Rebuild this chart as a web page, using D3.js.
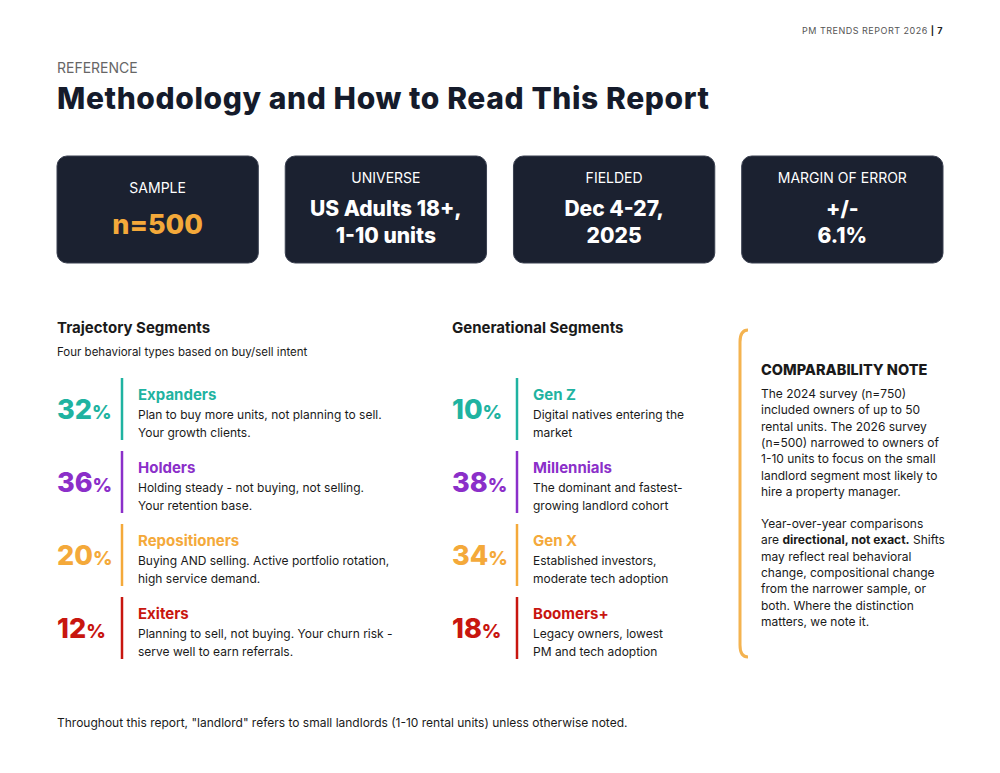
<!DOCTYPE html>
<html><head><meta charset="utf-8">
<script src="https://cdn.jsdelivr.net/npm/d3@7"></script>
<style>body{margin:0;background:#fff}svg{display:block;font-family:Inter,"Noto Sans",sans-serif}</style>
</head><body><svg id="c" width="1000" height="773"></svg>
<script>
const cardLabels=["SAMPLE","UNIVERSE","FIELDED","MARGIN OF ERROR"];
const cardValues=[["n=500"],["US Adults 18+,","1-10 units"],["Dec 4-27,","2025"],["+/-","6.1%"]];
const trajNames=["Expanders","Holders","Repositioners","Exiters"];
const trajValues=[32,36,20,12];
const trajDesc=[["Plan to buy more units, not planning to sell.","Your growth clients."],["Holding steady - not buying, not selling.","Your retention base."],["Buying AND selling. Active portfolio rotation,","high service demand."],["Planning to sell, not buying. Your churn risk -","serve well to earn referrals."]];
const genNames=["Gen Z","Millennials","Gen X","Boomers+"];
const genValues=[10,38,34,18];
const genDesc=[["Digital natives entering the","market"],["The dominant and fastest-","growing landlord cohort"],["Established investors,","moderate tech adoption"],["Legacy owners, lowest","PM and tech adoption"]];
const segColors=["#1fb3a1","#8b2fc9","#f4a93a","#c8160f"];
const noteLines1=["The 2024 survey (n=750)","included owners of up to 50","rental units. The 2026 survey","(n=500) narrowed to owners of","1-10 units to focus on the small","landlord segment most likely to","hire a property manager."];

const svg=d3.select("#c");
const ink="#1a1a1a";
svg.append("text").attr("x",943).attr("y",34).attr("text-anchor","end").attr("font-size",9).attr("fill","#555").attr("letter-spacing",0.5)
 .html('PM TRENDS REPORT 2026 <tspan font-weight="700" fill="#222">| 7</tspan>');
svg.append("text").attr("x",57).attr("y",73).attr("font-size",14).attr("fill","#666").text("REFERENCE");
svg.append("text").attr("x",57).attr("y",109).attr("font-size",30).attr("font-weight",800).attr("fill","#151b2b").attr("letter-spacing",0.6).text("Methodology and How to Read This Report");

const xc=d3.scaleBand().domain(d3.range(4)).range([57,943]).paddingInner(0.118);
const cg=svg.selectAll("g.card").data(cardLabels).join("g").attr("transform",(d,i)=>`translate(${xc(i)},156)`);
cg.append("rect").attr("width",xc.bandwidth()).attr("height",107).attr("rx",10).attr("fill","#1b2130").attr("stroke","#3a4050");
cg.append("text").attr("x",xc.bandwidth()/2).attr("y",(d,i)=>i==0?37:27).attr("text-anchor","middle").attr("fill","#fff").attr("font-size",14).text(d=>d);
cg.each(function(d,i){
  const g=d3.select(this),v=cardValues[i];
  v.forEach((t,j)=>g.append("text").attr("x",xc.bandwidth()/2).attr("y",i==0?78:(j==0?60:87)).attr("text-anchor","middle")
   .attr("fill",i==0?"#f4a93a":"#fff").attr("font-weight",800).attr("font-size",i==0?27:21).text(t));
});

svg.append("text").attr("x",57).attr("y",333).attr("font-size",15).attr("font-weight",700).attr("fill",ink).text("Trajectory Segments");
svg.append("text").attr("x",57).attr("y",356).attr("font-size",11.5).attr("fill",ink).text("Four behavioral types based on buy/sell intent");
svg.append("text").attr("x",452).attr("y",333).attr("font-size",15).attr("font-weight",700).attr("fill",ink).text("Generational Segments");

const y=d3.scaleBand().domain(d3.range(4)).range([378,670]);
function col(x0,names,vals,descs){
  const g=svg.append("g");
  const r=g.selectAll("g").data(names).join("g").attr("transform",(d,i)=>`translate(${x0},${y(i)})`);
  r.append("text").attr("x",0).attr("y",41).attr("font-size",27).attr("font-weight",800).attr("fill",(d,i)=>segColors[i])
   .html((d,i)=>`${vals[i]}<tspan font-size="19">%</tspan>`);
  r.append("line").attr("x1",65).attr("x2",65).attr("y1",0).attr("y2",62).attr("stroke",(d,i)=>segColors[i]).attr("stroke-width",2.5);
  r.append("text").attr("x",81).attr("y",22).attr("font-size",15).attr("font-weight",700).attr("fill",(d,i)=>segColors[i]).text(d=>d);
  r.each(function(d,i){descs[i].forEach((t,j)=>d3.select(this).append("text").attr("x",81).attr("y",41+j*17.5).attr("font-size",12).attr("fill",ink).text(t));});
}
col(57,trajNames,trajValues,trajDesc);
col(452,genNames,genValues,genDesc);

svg.append("path").attr("d","M748,330 Q740,330 740,342 L740,645 Q740,657 748,657").attr("fill","none").attr("stroke","#f4b350").attr("stroke-width",3);
svg.append("text").attr("x",761).attr("y",375).attr("font-size",14.5).attr("font-weight",800).attr("fill",ink).text("COMPARABILITY NOTE");
noteLines1.forEach((t,i)=>svg.append("text").attr("x",761).attr("y",398+i*16.3).attr("font-size",12).attr("fill",ink).text(t));
const n2=["Year-over-year comparisons",'are <tspan font-weight="700">directional, not exact.</tspan> Shifts',"may reflect real behavioral","change, compositional change","from the narrower sample, or","both. Where the distinction","matters, we note it."];
n2.forEach((t,i)=>svg.append("text").attr("x",761).attr("y",528+i*16.3).attr("font-size",12).attr("fill",ink).html(t));

svg.append("text").attr("x",57).attr("y",727).attr("font-size",12).attr("fill",ink).text('Throughout this report, "landlord" refers to small landlords (1-10 rental units) unless otherwise noted.');
</script></body></html>
